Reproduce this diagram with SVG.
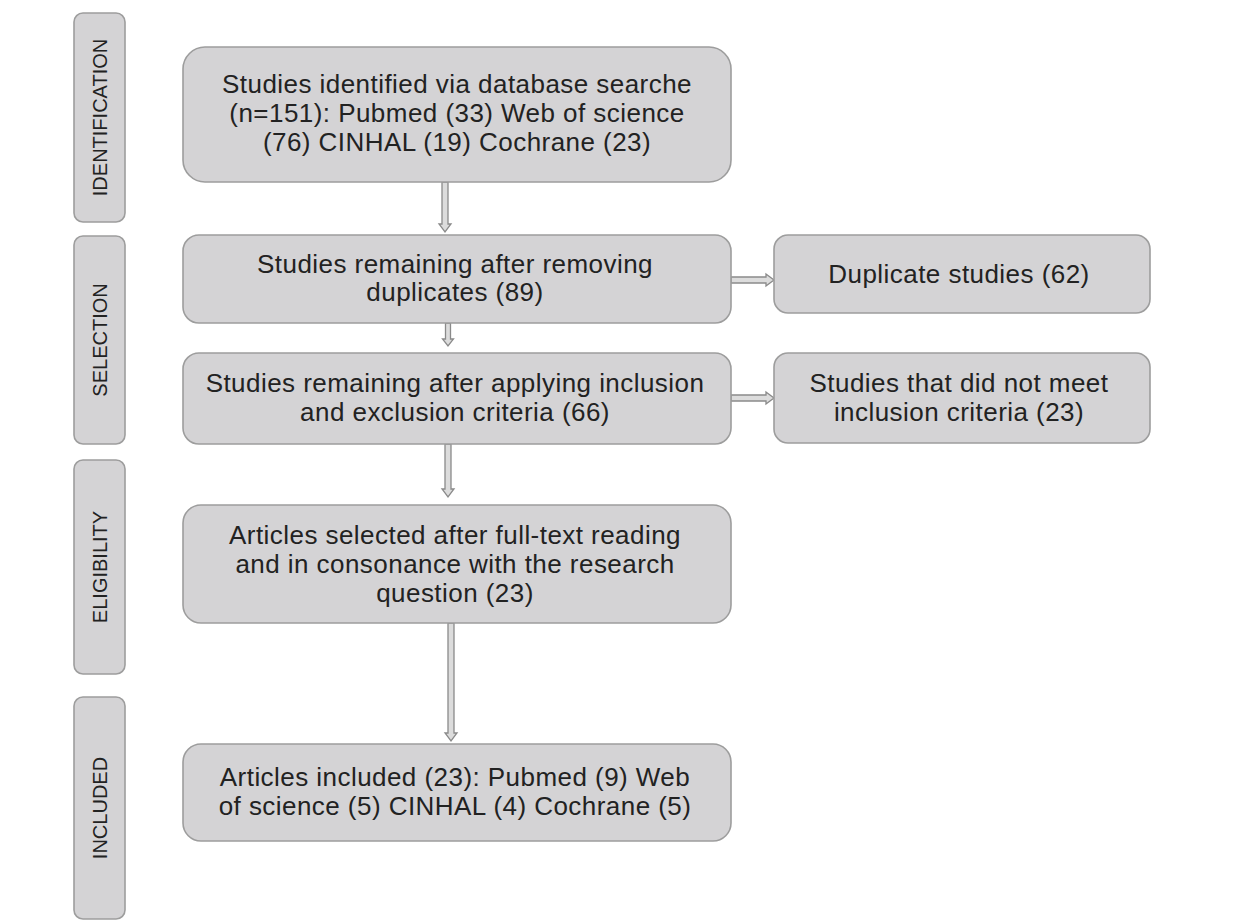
<svg xmlns="http://www.w3.org/2000/svg" width="1250" height="922" viewBox="0 0 1250 922">
<style>
.box{fill:#d4d3d5;stroke:#9d9d9d;stroke-width:1.6}
.t{font-family:"Liberation Sans",Arial,sans-serif;font-size:26px;fill:#222;text-anchor:middle;letter-spacing:0.45px}
.lab{font-family:"Liberation Sans",Arial,sans-serif;font-size:20px;fill:#222;text-anchor:middle}
.arr{fill:#dcdcdc;stroke:#8a8a8a;stroke-width:1.3;stroke-linejoin:miter}
</style>
<rect width="1250" height="922" fill="#ffffff"/>
<g id="stage-identification">
<rect class="box" x="74" y="13" width="51" height="209" rx="9"/>
<text class="lab" transform="translate(107,117.5) rotate(-90)">IDENTIFICATION</text>
</g>
<g id="stage-selection">
<rect class="box" x="74" y="236" width="51" height="208" rx="9"/>
<text class="lab" transform="translate(107,340) rotate(-90)">SELECTION</text>
</g>
<g id="stage-eligibility">
<rect class="box" x="74" y="460" width="51" height="214" rx="9"/>
<text class="lab" transform="translate(107,567) rotate(-90)">ELIGIBILITY</text>
</g>
<g id="stage-included">
<rect class="box" x="74" y="697" width="51" height="222" rx="9"/>
<text class="lab" transform="translate(107,808) rotate(-90)">INCLUDED</text>
</g>
<g id="connectors">
<path class="arr" d="M442,182 L442,224 L439,224 L445,232 L451,224 L448,224 L448,182 Z"/>
<path class="arr" d="M445.5,323 L445.5,339 L442.5,339 L448,346 L453.5,339 L450.5,339 L450.5,323 Z"/>
<path class="arr" d="M445,444 L445,489 L442,489 L448,497 L454,489 L451,489 L451,444 Z"/>
<path class="arr" d="M448,623 L448,733 L445,733 L451,741 L457,733 L454,733 L454,623 Z"/>
<path class="arr" d="M731,277 L766,277 L766,274 L774,280 L766,286 L766,283 L731,283 Z"/>
<path class="arr" d="M731,395 L766,395 L766,392 L774,398 L766,404 L766,401 L731,401 Z"/>
</g>
<g id="n1">
<rect class="box" x="183" y="47" width="548" height="135" rx="22"/>
<text class="t" x="457" y="93">Studies identified via database searche</text>
<text class="t" x="457" y="122">(n=151): Pubmed (33) Web of science</text>
<text class="t" x="457" y="151">(76) CINHAL (19) Cochrane (23)</text>
</g>
<g id="n2">
<rect class="box" x="183" y="235" width="548" height="88" rx="16"/>
<text class="t" x="455" y="273">Studies remaining after removing</text>
<text class="t" x="455" y="301">duplicates (89)</text>
</g>
<g id="n3">
<rect class="box" x="183" y="353" width="548" height="91" rx="16"/>
<text class="t" x="455" y="392">Studies remaining after applying inclusion</text>
<text class="t" x="455" y="421">and exclusion criteria (66)</text>
</g>
<g id="n4">
<rect class="box" x="183" y="505" width="548" height="118" rx="18"/>
<text class="t" x="455" y="544">Articles selected after full-text reading</text>
<text class="t" x="455" y="573">and in consonance with the research</text>
<text class="t" x="455" y="602">question (23)</text>
</g>
<g id="n5">
<rect class="box" x="183" y="744" width="548" height="97" rx="18"/>
<text class="t" x="455" y="786">Articles included (23): Pubmed (9) Web</text>
<text class="t" x="455" y="815">of science (5) CINHAL (4) Cochrane (5)</text>
</g>
<g id="r1">
<rect class="box" x="774" y="235" width="376" height="78" rx="14"/>
<text class="t" x="959" y="283">Duplicate studies (62)</text>
</g>
<g id="r2">
<rect class="box" x="774" y="353" width="376" height="90" rx="14"/>
<text class="t" x="959" y="392">Studies that did not meet</text>
<text class="t" x="959" y="421">inclusion criteria (23)</text>
</g>
</svg>
